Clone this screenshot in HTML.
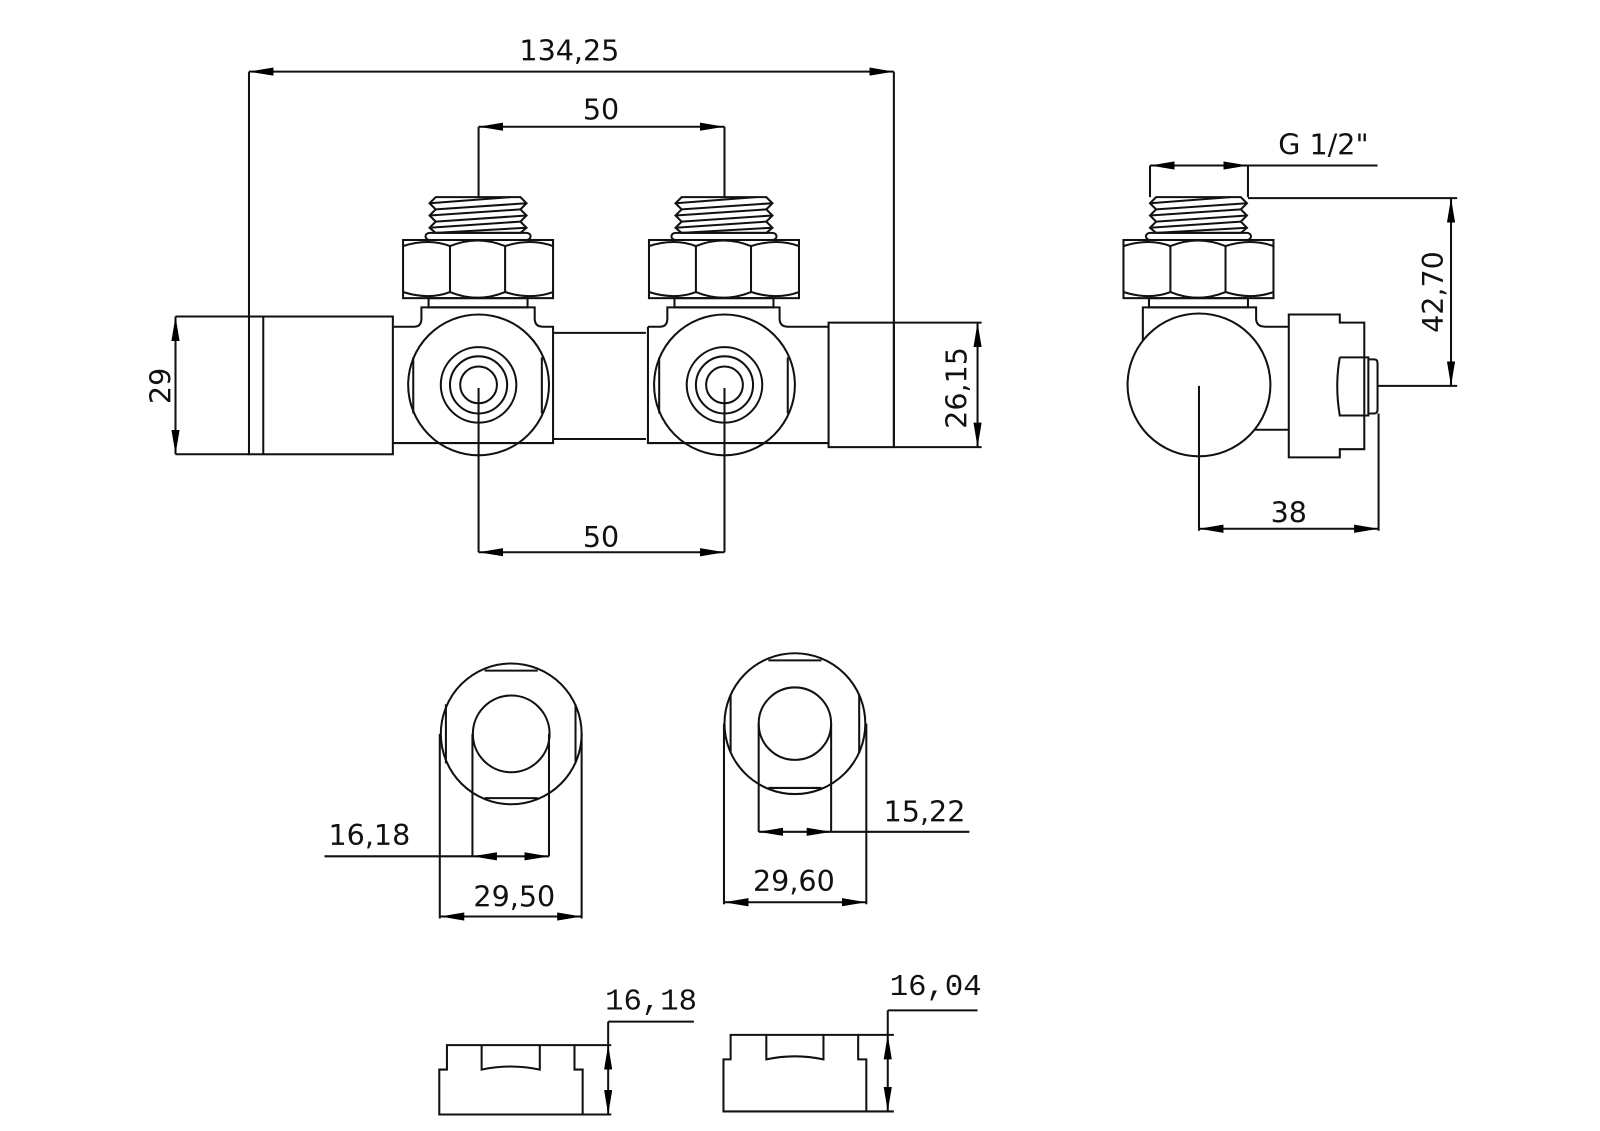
<!DOCTYPE html>
<html><head><meta charset="utf-8"><style>
html,body{margin:0;padding:0;background:#fff}
svg{display:block}
text{font-family:"DejaVu Sans","Liberation Sans",sans-serif;font-size:28px;fill:#111}
.m{font-family:"Liberation Mono",monospace;font-size:30px}
</style></head><body>
<svg width="1600" height="1131" viewBox="0 0 1568 1108" xmlns="http://www.w3.org/2000/svg">
<defs>
<marker id="a" viewBox="0 0 24 8" refX="24" refY="4" markerWidth="24" markerHeight="8" markerUnits="userSpaceOnUse" orient="auto-start-reverse">
<path d="M24,4 L0,0 L0,8 Z" fill="#000"/></marker>
<g id="thread" fill="none" stroke="#111" stroke-width="2">
<path d="M427,193 L510,193 L516,199 L510,205 L516,211 L510,217 L516,223 L510,228 L427,228 L421,223 L427,217 L421,211 L427,205 L421,199 Z"/>
<path d="M421,199 L500,193 M427,205 L516,199 M421,211 L510,205 M427,217 L516,211 M421,223 L510,217 M427,228 L516,223"/>
<rect x="417" y="228" width="103" height="7" rx="4"/>
</g>
<g id="nut" fill="none" stroke="#111" stroke-width="2">
<rect x="395" y="235" width="147" height="57"/>
<path d="M395,241 Q420,233 441,241 Q468,230 495,241 Q520,233 542,241"/>
<path d="M395,286 Q420,294 441,286 Q468,297 495,286 Q520,294 542,286"/>
<line x1="441" y1="241" x2="441" y2="286"/><line x1="495" y1="241" x2="495" y2="286"/>
<rect x="420" y="292" width="97" height="9"/>
</g>
</defs>
<rect width="1568" height="1108" fill="#fff"/>
<g fill="none" stroke="#111" stroke-width="2">
<line x1="244" y1="70" x2="876" y2="70" marker-start="url(#a)" marker-end="url(#a)"/>
<line x1="244" y1="70" x2="244" y2="310"/><line x1="876" y1="70" x2="876" y2="438"/>
<line x1="469" y1="124" x2="710" y2="124" marker-start="url(#a)" marker-end="url(#a)"/>
<line x1="469" y1="124" x2="469" y2="193"/><line x1="710" y1="124" x2="710" y2="193"/>
<use href="#thread"/><use href="#thread" x="241"/>
<use href="#nut"/><use href="#nut" x="241"/>
<rect x="244" y="310" width="141" height="135"/><line x1="258" y1="310" x2="258" y2="445"/>
<path d="M385,320 L406,320 Q413,320 413,312 L413,301 L524,301 L524,312 Q524,320 532,320 L542,320 L542,434 L385,434"/>
<path d="M542,326 L633,326 M542,430 L633,430"/>
<path d="M635,320 L647,320 Q654,320 654,312 L654,301 L764,301 L764,312 Q764,320 772,320 L812,320 M635,320 L635,434 L812,434"/>
<rect x="812" y="316" width="64" height="122"/>
<circle cx="469" cy="377" r="69"/><circle cx="469" cy="377" r="37"/><circle cx="469" cy="377" r="28"/><circle cx="469" cy="377" r="18"/>
<line x1="405" y1="350" x2="405" y2="405"/><line x1="531" y1="350" x2="531" y2="405"/>
<circle cx="710" cy="377" r="69"/><circle cx="710" cy="377" r="37"/><circle cx="710" cy="377" r="28"/><circle cx="710" cy="377" r="18"/>
<line x1="646" y1="350" x2="646" y2="405"/><line x1="772" y1="350" x2="772" y2="405"/>
<line x1="172" y1="310" x2="244" y2="310"/><line x1="172" y1="445" x2="244" y2="445"/>
<line x1="172" y1="310" x2="172" y2="445" marker-start="url(#a)" marker-end="url(#a)"/>
<line x1="876" y1="316" x2="962" y2="316"/><line x1="876" y1="438" x2="962" y2="438"/>
<line x1="958" y1="316" x2="958" y2="438" marker-start="url(#a)" marker-end="url(#a)"/>
<line x1="469" y1="380" x2="469" y2="541"/><line x1="710" y1="380" x2="710" y2="541"/>
<line x1="469" y1="541" x2="710" y2="541" marker-start="url(#a)" marker-end="url(#a)"/>
<use href="#thread" x="706"/><use href="#nut" x="706"/>
<line x1="1127" y1="162" x2="1223" y2="162" marker-start="url(#a)" marker-end="url(#a)"/>
<line x1="1223" y1="162" x2="1350" y2="162"/>
<line x1="1127" y1="162" x2="1127" y2="193"/><line x1="1223" y1="162" x2="1223" y2="193"/>
<line x1="1223" y1="194" x2="1428" y2="194"/><line x1="1350" y1="378" x2="1428" y2="378"/>
<line x1="1422" y1="194" x2="1422" y2="378" marker-start="url(#a)" marker-end="url(#a)"/>
<path d="M1120,335 L1120,301 L1231,301 L1231,312 Q1231,320 1240,320 L1263,320"/>
<line x1="1228" y1="421" x2="1263" y2="421"/>
<circle cx="1175" cy="377" r="70" fill="#fff"/>
<path d="M1263,308 L1313,308 L1313,316 L1337,316 L1337,440 L1313,440 L1313,448 L1263,448 Z"/>
<path d="M1313,350 L1341,350 L1341,407 L1313,407 Q1308,378 1313,350"/>
<path d="M1341,352 L1347,352 Q1350,352 1350,356 L1350,401 Q1350,405 1347,405 L1341,405"/>
<line x1="1175" y1="378" x2="1175" y2="520"/><line x1="1351" y1="405" x2="1351" y2="520"/>
<line x1="1175" y1="518" x2="1351" y2="518" marker-start="url(#a)" marker-end="url(#a)"/>
<circle cx="501" cy="719" r="69"/><circle cx="501" cy="719" r="37.6"/>
<line x1="437" y1="690" x2="437" y2="748"/><line x1="564" y1="690" x2="564" y2="748"/>
<line x1="475" y1="657" x2="527" y2="657"/><line x1="475" y1="782" x2="527" y2="782"/>
<line x1="463" y1="719" x2="463" y2="839"/><line x1="538" y1="719" x2="538" y2="839"/>
<line x1="318" y1="839" x2="463" y2="839"/>
<line x1="463" y1="839" x2="538" y2="839" marker-start="url(#a)" marker-end="url(#a)"/>
<line x1="431" y1="719" x2="431" y2="900"/><line x1="570" y1="719" x2="570" y2="900"/>
<line x1="431" y1="898" x2="570" y2="898" marker-start="url(#a)" marker-end="url(#a)"/>
<circle cx="779" cy="709" r="69"/><circle cx="779" cy="709" r="35.5"/>
<line x1="716" y1="680" x2="716" y2="738"/><line x1="842" y1="680" x2="842" y2="738"/>
<line x1="753" y1="647" x2="805" y2="647"/><line x1="753" y1="772" x2="805" y2="772"/>
<line x1="743.5" y1="709" x2="743.5" y2="815"/><line x1="814.5" y1="709" x2="814.5" y2="815"/>
<line x1="743.5" y1="815" x2="814.5" y2="815" marker-start="url(#a)" marker-end="url(#a)"/>
<line x1="814.5" y1="815" x2="950" y2="815"/>
<line x1="709.5" y1="709" x2="709.5" y2="886"/><line x1="849" y1="709" x2="849" y2="886"/>
<line x1="709.5" y1="884" x2="849" y2="884" marker-start="url(#a)" marker-end="url(#a)"/>
<path d="M430.5,1092 L430.5,1048 L438,1048 L438,1024 L563,1024 L563,1048 L571,1048 L571,1092 Z"/>
<path d="M472,1024 L472,1048 Q500,1042 529,1048 L529,1024"/>
<line x1="563" y1="1024" x2="599" y2="1024"/><line x1="571" y1="1092" x2="599" y2="1092"/>
<line x1="596" y1="1001" x2="680" y2="1001"/><line x1="596" y1="1001" x2="596" y2="1024"/>
<line x1="596" y1="1024" x2="596" y2="1092" marker-start="url(#a)" marker-end="url(#a)"/>
<path d="M709,1089 L709,1038 L716,1038 L716,1014 L841,1014 L841,1038 L849,1038 L849,1089 Z"/>
<path d="M751,1014 L751,1038 Q779,1032 807,1038 L807,1014"/>
<line x1="841" y1="1014" x2="876" y2="1014"/><line x1="849" y1="1089" x2="876" y2="1089"/>
<line x1="870" y1="990" x2="958" y2="990"/><line x1="870" y1="990" x2="870" y2="1014"/>
<line x1="870" y1="1014" x2="870" y2="1089" marker-start="url(#a)" marker-end="url(#a)"/>
</g>
<g>
<text x="558" y="59" text-anchor="middle">134,25</text>
<text x="589" y="117" text-anchor="middle">50</text>
<text x="589" y="536" text-anchor="middle">50</text>
<text transform="translate(167,378) rotate(-90)" text-anchor="middle">29</text>
<text transform="translate(947,380) rotate(-90)" text-anchor="middle">26,15</text>
<text x="1297" y="151" text-anchor="middle">G 1/2"</text>
<text transform="translate(1414,286) rotate(-90)" text-anchor="middle">42,70</text>
<text x="1263" y="512" text-anchor="middle">38</text>
<text x="362" y="828" text-anchor="middle">16,18</text>
<text x="504" y="888" text-anchor="middle">29,50</text>
<text x="906" y="805" text-anchor="middle">15,22</text>
<text x="778" y="873" text-anchor="middle">29,60</text>
<text class="m" x="638" y="989" text-anchor="middle">16,18</text>
<text class="m" x="917" y="975" text-anchor="middle">16,04</text>
</g>
</svg>
</body></html>
